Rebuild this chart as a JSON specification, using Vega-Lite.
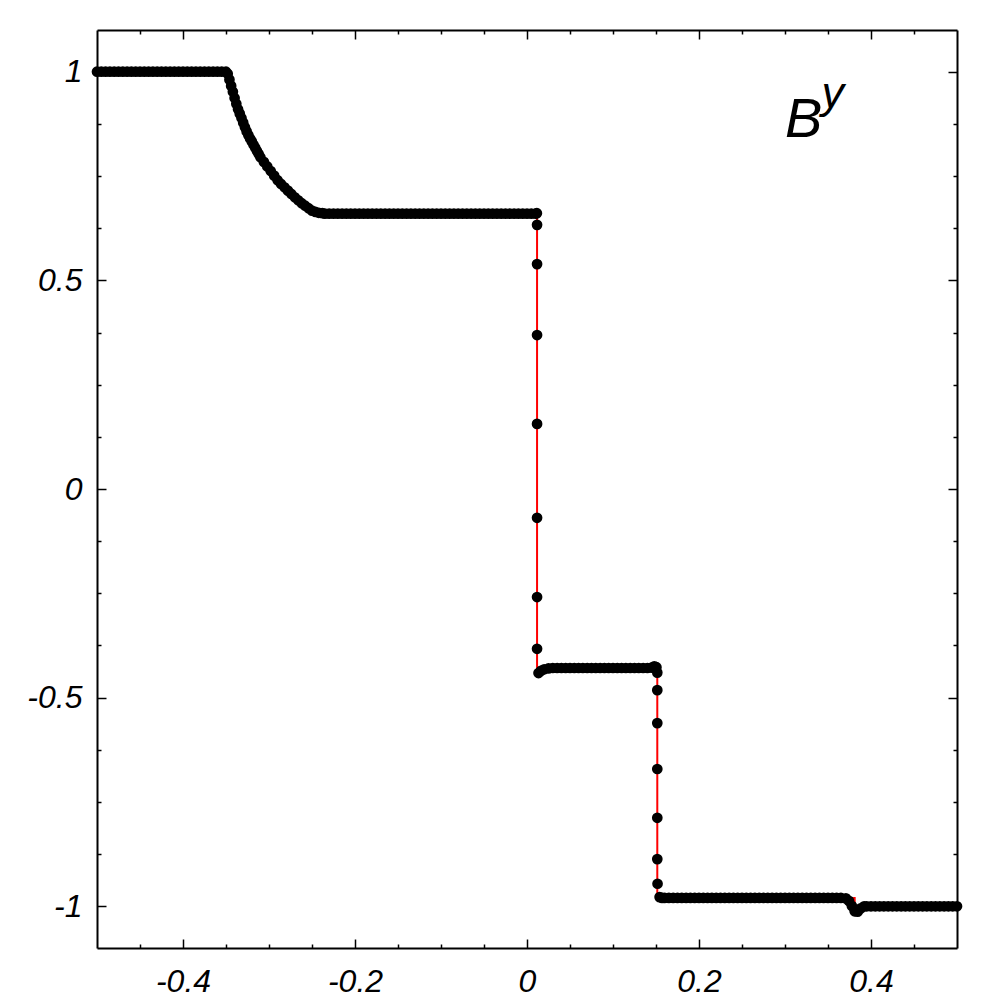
{
  "$schema": "https://vega.github.io/schema/vega-lite/v6.json",
  "width": 860,
  "height": 918,
  "autosize": "none",
  "padding": {"left": 97, "top": 30, "right": 43, "bottom": 52},
  "background": "white",
  "config": {
    "view": {"stroke": null},
    "axis": {
      "labelFont": "Liberation Sans",
      "labelFontStyle": "italic",
      "labelFontSize": 32,
      "labelColor": "black",
      "tickColor": "black",
      "tickWidth": 1.5,
      "domainColor": "black",
      "domainWidth": 2,
      "grid": false,
      "title": null,
      "labelFlush": false,
      "labelOverlap": false
    }
  },
  "datasets": {
    "exact": [
      {"i": 1, "x": -0.5, "y": 1}, {"i": 2, "x": -0.35, "y": 1}, {"i": 3, "x": -0.345, "y": 0.973},
      {"i": 4, "x": -0.34, "y": 0.937}, {"i": 5, "x": -0.33, "y": 0.878}, {"i": 6, "x": -0.32, "y": 0.833},
      {"i": 7, "x": -0.31, "y": 0.795}, {"i": 8, "x": -0.3, "y": 0.767}, {"i": 9, "x": -0.29, "y": 0.74},
      {"i": 10, "x": -0.28, "y": 0.719}, {"i": 11, "x": -0.27, "y": 0.699}, {"i": 12, "x": -0.26, "y": 0.682},
      {"i": 13, "x": -0.25, "y": 0.667}, {"i": 14, "x": -0.245, "y": 0.66}, {"i": 15, "x": 0.0117, "y": 0.66},
      {"i": 16, "x": 0.0117, "y": -0.43}, {"i": 17, "x": 0.1515, "y": -0.43}, {"i": 18, "x": 0.1515, "y": -0.98},
      {"i": 19, "x": 0.381, "y": -0.98}, {"i": 20, "x": 0.381, "y": -1.0}, {"i": 21, "x": 0.5, "y": -1.0}
    ],
    "num": [
      {"x": -0.5, "y": 1}, {"x": -0.495, "y": 1}, {"x": -0.49, "y": 1}, {"x": -0.485, "y": 1}, {"x": -0.48, "y": 1},
      {"x": -0.475, "y": 1}, {"x": -0.47, "y": 1}, {"x": -0.465, "y": 1}, {"x": -0.46, "y": 1}, {"x": -0.455, "y": 1},
      {"x": -0.45, "y": 1}, {"x": -0.445, "y": 1}, {"x": -0.44, "y": 1}, {"x": -0.435, "y": 1}, {"x": -0.43, "y": 1},
      {"x": -0.425, "y": 1}, {"x": -0.42, "y": 1}, {"x": -0.415, "y": 1}, {"x": -0.41, "y": 1}, {"x": -0.405, "y": 1},
      {"x": -0.4, "y": 1}, {"x": -0.395, "y": 1}, {"x": -0.39, "y": 1}, {"x": -0.385, "y": 1}, {"x": -0.38, "y": 1},
      {"x": -0.375, "y": 1}, {"x": -0.37, "y": 1}, {"x": -0.365, "y": 1}, {"x": -0.36, "y": 1}, {"x": -0.355, "y": 1},
      {"x": -0.35, "y": 1},
      {"x": -0.348, "y": 0.995}, {"x": -0.346, "y": 0.981}, {"x": -0.344, "y": 0.966}, {"x": -0.342, "y": 0.952},
      {"x": -0.34, "y": 0.937}, {"x": -0.338, "y": 0.923}, {"x": -0.336, "y": 0.91}, {"x": -0.334, "y": 0.8995},
      {"x": -0.332, "y": 0.889}, {"x": -0.33, "y": 0.878}, {"x": -0.328, "y": 0.867}, {"x": -0.326, "y": 0.857},
      {"x": -0.324, "y": 0.848}, {"x": -0.322, "y": 0.84}, {"x": -0.32, "y": 0.833}, {"x": -0.318, "y": 0.825},
      {"x": -0.316, "y": 0.818}, {"x": -0.314, "y": 0.81}, {"x": -0.312, "y": 0.803}, {"x": -0.31, "y": 0.795},
      {"x": -0.306, "y": 0.784}, {"x": -0.302, "y": 0.773}, {"x": -0.298, "y": 0.762}, {"x": -0.294, "y": 0.751},
      {"x": -0.29, "y": 0.74}, {"x": -0.286, "y": 0.731}, {"x": -0.282, "y": 0.723}, {"x": -0.278, "y": 0.715},
      {"x": -0.274, "y": 0.707}, {"x": -0.27, "y": 0.699}, {"x": -0.266, "y": 0.692}, {"x": -0.262, "y": 0.685},
      {"x": -0.258, "y": 0.679}, {"x": -0.254, "y": 0.673}, {"x": -0.25, "y": 0.667}, {"x": -0.246, "y": 0.664},
      {"x": -0.242, "y": 0.662}, {"x": -0.238, "y": 0.661},
      {"x": -0.235, "y": 0.66}, {"x": -0.23, "y": 0.66}, {"x": -0.225, "y": 0.66}, {"x": -0.22, "y": 0.66}, {"x": -0.215, "y": 0.66},
      {"x": -0.21, "y": 0.66}, {"x": -0.205, "y": 0.66}, {"x": -0.2, "y": 0.66}, {"x": -0.195, "y": 0.66}, {"x": -0.19, "y": 0.66},
      {"x": -0.185, "y": 0.66}, {"x": -0.18, "y": 0.66}, {"x": -0.175, "y": 0.66}, {"x": -0.17, "y": 0.66}, {"x": -0.165, "y": 0.66},
      {"x": -0.16, "y": 0.66}, {"x": -0.155, "y": 0.66}, {"x": -0.15, "y": 0.66}, {"x": -0.145, "y": 0.66}, {"x": -0.14, "y": 0.66},
      {"x": -0.135, "y": 0.66}, {"x": -0.13, "y": 0.66}, {"x": -0.125, "y": 0.66}, {"x": -0.12, "y": 0.66}, {"x": -0.115, "y": 0.66},
      {"x": -0.11, "y": 0.66}, {"x": -0.105, "y": 0.66}, {"x": -0.1, "y": 0.66}, {"x": -0.095, "y": 0.66}, {"x": -0.09, "y": 0.66},
      {"x": -0.085, "y": 0.66}, {"x": -0.08, "y": 0.66}, {"x": -0.075, "y": 0.66}, {"x": -0.07, "y": 0.66}, {"x": -0.065, "y": 0.66},
      {"x": -0.06, "y": 0.66}, {"x": -0.055, "y": 0.66}, {"x": -0.05, "y": 0.66}, {"x": -0.045, "y": 0.66}, {"x": -0.04, "y": 0.66},
      {"x": -0.035, "y": 0.66}, {"x": -0.03, "y": 0.66}, {"x": -0.025, "y": 0.66}, {"x": -0.02, "y": 0.66}, {"x": -0.015, "y": 0.66},
      {"x": -0.01, "y": 0.66}, {"x": -0.005, "y": 0.66}, {"x": 0, "y": 0.66}, {"x": 0.005, "y": 0.66}, {"x": 0.01, "y": 0.66},
      {"x": 0.0115, "y": 0.661},
      {"x": 0.0117, "y": 0.633}, {"x": 0.0117, "y": 0.539}, {"x": 0.0117, "y": 0.369}, {"x": 0.0117, "y": 0.156},
      {"x": 0.0117, "y": -0.069}, {"x": 0.0117, "y": -0.259}, {"x": 0.0117, "y": -0.383}, {"x": 0.0134, "y": -0.441},
      {"x": 0.016, "y": -0.436}, {"x": 0.02, "y": -0.432}, {"x": 0.025, "y": -0.43}, {"x": 0.03, "y": -0.429}, {"x": 0.035, "y": -0.429},
      {"x": 0.04, "y": -0.429}, {"x": 0.045, "y": -0.429}, {"x": 0.05, "y": -0.429}, {"x": 0.055, "y": -0.429}, {"x": 0.06, "y": -0.429},
      {"x": 0.065, "y": -0.429}, {"x": 0.07, "y": -0.429}, {"x": 0.075, "y": -0.429}, {"x": 0.08, "y": -0.429}, {"x": 0.085, "y": -0.429},
      {"x": 0.09, "y": -0.429}, {"x": 0.095, "y": -0.429}, {"x": 0.1, "y": -0.429}, {"x": 0.105, "y": -0.429}, {"x": 0.11, "y": -0.429},
      {"x": 0.115, "y": -0.429}, {"x": 0.12, "y": -0.429}, {"x": 0.125, "y": -0.429}, {"x": 0.13, "y": -0.429}, {"x": 0.135, "y": -0.429},
      {"x": 0.14, "y": -0.429}, {"x": 0.145, "y": -0.428}, {"x": 0.148, "y": -0.425}, {"x": 0.1505, "y": -0.427}, {"x": 0.1515, "y": -0.44},
      {"x": 0.1515, "y": -0.482}, {"x": 0.1515, "y": -0.561}, {"x": 0.1515, "y": -0.671}, {"x": 0.1515, "y": -0.788},
      {"x": 0.1515, "y": -0.887}, {"x": 0.1518, "y": -0.946}, {"x": 0.1542, "y": -0.978},
      {"x": 0.157, "y": -0.98}, {"x": 0.16, "y": -0.98}, {"x": 0.165, "y": -0.98}, {"x": 0.17, "y": -0.98}, {"x": 0.175, "y": -0.98},
      {"x": 0.18, "y": -0.98}, {"x": 0.185, "y": -0.98}, {"x": 0.19, "y": -0.98}, {"x": 0.195, "y": -0.98}, {"x": 0.2, "y": -0.98},
      {"x": 0.205, "y": -0.98}, {"x": 0.21, "y": -0.98}, {"x": 0.215, "y": -0.98}, {"x": 0.22, "y": -0.98}, {"x": 0.225, "y": -0.98},
      {"x": 0.23, "y": -0.98}, {"x": 0.235, "y": -0.98}, {"x": 0.24, "y": -0.98}, {"x": 0.245, "y": -0.98}, {"x": 0.25, "y": -0.98},
      {"x": 0.255, "y": -0.98}, {"x": 0.26, "y": -0.98}, {"x": 0.265, "y": -0.98}, {"x": 0.27, "y": -0.98}, {"x": 0.275, "y": -0.98},
      {"x": 0.28, "y": -0.98}, {"x": 0.285, "y": -0.98}, {"x": 0.29, "y": -0.98}, {"x": 0.295, "y": -0.98}, {"x": 0.3, "y": -0.98},
      {"x": 0.305, "y": -0.98}, {"x": 0.31, "y": -0.98}, {"x": 0.315, "y": -0.98}, {"x": 0.32, "y": -0.98}, {"x": 0.325, "y": -0.98},
      {"x": 0.33, "y": -0.98}, {"x": 0.335, "y": -0.98}, {"x": 0.34, "y": -0.98}, {"x": 0.345, "y": -0.98}, {"x": 0.35, "y": -0.98},
      {"x": 0.355, "y": -0.98}, {"x": 0.36, "y": -0.98}, {"x": 0.365, "y": -0.98},
      {"x": 0.3708, "y": -0.981}, {"x": 0.3743, "y": -0.987}, {"x": 0.3777, "y": -0.999}, {"x": 0.381, "y": -1.012},
      {"x": 0.3845, "y": -1.013}, {"x": 0.388, "y": -1.005}, {"x": 0.392, "y": -1.0},
      {"x": 0.395, "y": -1}, {"x": 0.4, "y": -1}, {"x": 0.405, "y": -1}, {"x": 0.41, "y": -1}, {"x": 0.415, "y": -1},
      {"x": 0.42, "y": -1}, {"x": 0.425, "y": -1}, {"x": 0.43, "y": -1}, {"x": 0.435, "y": -1}, {"x": 0.44, "y": -1},
      {"x": 0.445, "y": -1}, {"x": 0.45, "y": -1}, {"x": 0.455, "y": -1}, {"x": 0.46, "y": -1}, {"x": 0.465, "y": -1},
      {"x": 0.47, "y": -1}, {"x": 0.475, "y": -1}, {"x": 0.48, "y": -1}, {"x": 0.485, "y": -1}, {"x": 0.49, "y": -1},
      {"x": 0.495, "y": -1}, {"x": 0.5, "y": -1}
    ]
  },
  "resolve": {"axis": {"x": "independent", "y": "independent"}},
  "layer": [
    {
      "data": {"name": "exact"},
      "mark": {"type": "line", "color": "#ff0000", "strokeWidth": 2, "clip": false},
      "encoding": {
        "x": {"field": "x", "type": "quantitative",
          "scale": {"domain": [-0.5, 0.5], "nice": false, "zero": false},
          "axis": {"orient": "bottom", "values": [-0.4, -0.2, 0, 0.2, 0.4], "tickSize": -9, "labelPadding": 27, "labelExpr": "'' + datum.value"}},
        "y": {"field": "y", "type": "quantitative",
          "scale": {"domain": [-1.1, 1.1], "nice": false, "zero": false},
          "axis": {"orient": "left", "values": [-1, -0.5, 0, 0.5, 1], "tickSize": -9, "labelPadding": 24, "labelExpr": "'' + datum.value"}},
        "order": {"field": "i", "type": "quantitative"}
      }
    },
    {
      "data": {"name": "num"},
      "mark": {"type": "circle", "color": "black", "size": 115, "opacity": 1, "clip": false},
      "encoding": {
        "x": {"field": "x", "type": "quantitative",
          "scale": {"domain": [-0.5, 0.5], "nice": false, "zero": false},
          "axis": {"orient": "top", "values": [-0.4, -0.2, 0, 0.2, 0.4], "tickSize": -9, "labels": false}},
        "y": {"field": "y", "type": "quantitative",
          "scale": {"domain": [-1.1, 1.1], "nice": false, "zero": false},
          "axis": {"orient": "right", "values": [-1, -0.5, 0, 0.5, 1], "tickSize": -9, "labels": false}}
      }
    },
    {
      "data": {"values": [{"label": "B"}]},
      "mark": {"type": "text", "font": "Liberation Sans", "fontStyle": "italic", "fontSize": 56, "align": "left", "baseline": "alphabetic", "color": "black"},
      "encoding": {
        "text": {"field": "label"},
        "x": {"datum": 0.3, "type": "quantitative",
          "scale": {"domain": [-0.5, 0.5], "nice": false, "zero": false},
          "axis": {"orient": "bottom", "values": [-0.45, -0.35, -0.3, -0.25, -0.15, -0.1, -0.05, 0.05, 0.1, 0.15, 0.25, 0.3, 0.35, 0.45], "tickSize": -4, "labels": false, "domain": false}},
        "y": {"datum": 0.8436, "type": "quantitative",
          "scale": {"domain": [-1.1, 1.1], "nice": false, "zero": false},
          "axis": {"orient": "left", "values": [-0.875, -0.75, -0.625, -0.375, -0.25, -0.125, 0.125, 0.25, 0.375, 0.625, 0.75, 0.875], "tickSize": -4, "labels": false, "domain": false}}
      }
    },
    {
      "data": {"values": [{"label": "y"}]},
      "mark": {"type": "text", "font": "Liberation Sans", "fontStyle": "italic", "fontSize": 45, "align": "left", "baseline": "alphabetic", "color": "black"},
      "encoding": {
        "text": {"field": "label"},
        "x": {"datum": 0.3425, "type": "quantitative",
          "scale": {"domain": [-0.5, 0.5], "nice": false, "zero": false},
          "axis": {"orient": "top", "values": [-0.45, -0.35, -0.3, -0.25, -0.15, -0.1, -0.05, 0.05, 0.1, 0.15, 0.25, 0.3, 0.35, 0.45], "tickSize": -4, "labels": false, "domain": false}},
        "y": {"datum": 0.912, "type": "quantitative",
          "scale": {"domain": [-1.1, 1.1], "nice": false, "zero": false},
          "axis": {"orient": "right", "values": [-0.875, -0.75, -0.625, -0.375, -0.25, -0.125, 0.125, 0.25, 0.375, 0.625, 0.75, 0.875], "tickSize": -4, "labels": false, "domain": false}}
      }
    }
  ]
}
